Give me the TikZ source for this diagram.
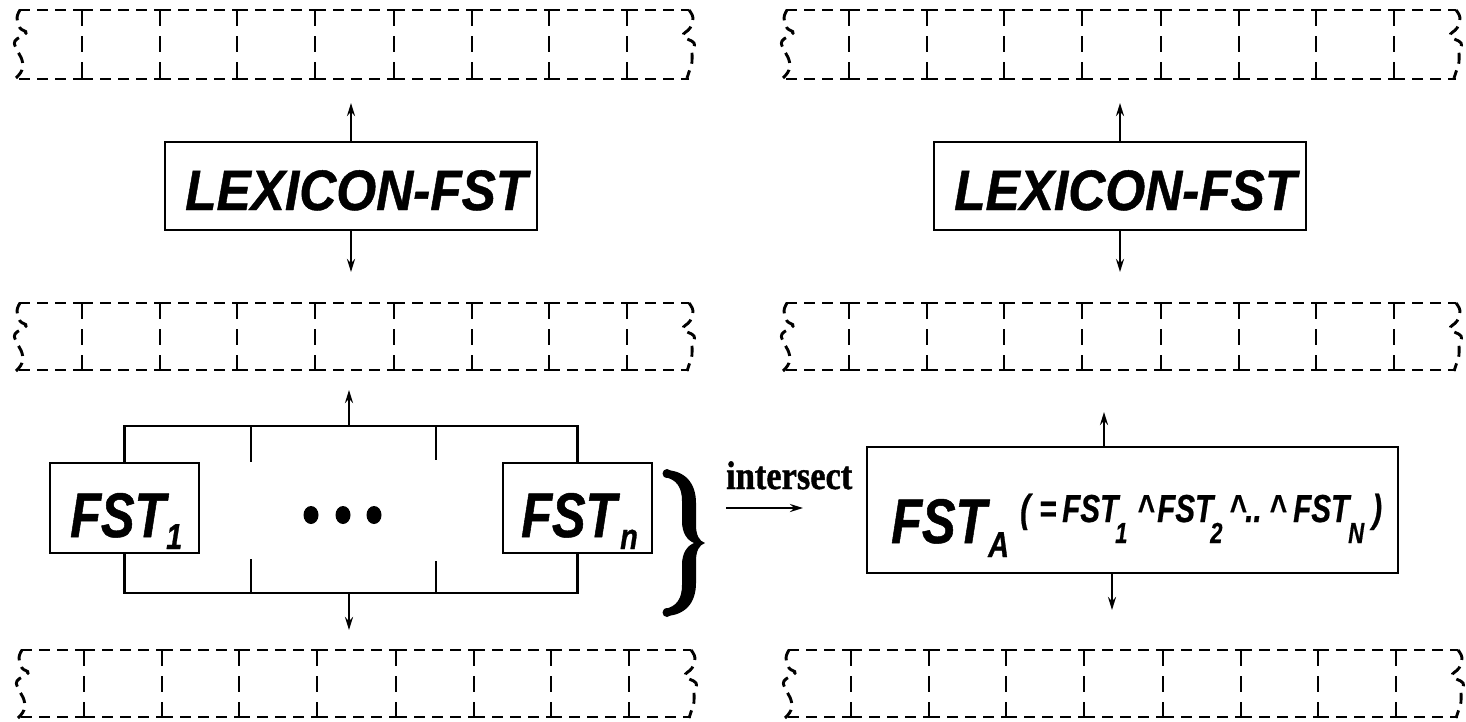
\documentclass[tikz,border=0pt]{standalone}
\usepackage{fontspec}
\setmainfont{Liberation Sans}
\newfontfamily\hvw[FakeStretch=0.9,FakeBold=0.8]{Liberation Sans}
\newfontfamily\hvn[FakeStretch=0.8,FakeBold=0.8]{Liberation Sans}
\newfontfamily\hvs[FakeStretch=0.76,FakeBold=0.6]{Liberation Sans}
\newfontfamily\tmn[FakeStretch=0.86,FakeBold=1]{Liberation Serif}
\usetikzlibrary{arrows.meta}

\newcommand\fsz[1]{\fontsize{#1}{#1}\selectfont}

% a dashed tape of nine cells with torn ends: #1 = left x, #2 = top y, #3 = bottom y
\newcommand\tapestrip[3]{%
  \foreach \a/\b in {0/63,63/141,141/218,218/296,296/375,375/453,453/530,530/608,608/670}{%
    \draw[tapeh] ({#1+\a},{#2}) -- ({#1+\b},{#2});
    \draw[tapeh] ({#1+\a},{#3}) -- ({#1+\b},{#3});
  }%
  \foreach \d in {63,141,218,296,375,453,530,608}{%
    \draw[tapev] ({#1+\d},{#2}) -- ({#1+\d},{#3});
  }%
  \begin{scope}[shift={(#1,#2)}]
    \draw[tapeh] plot[smooth, tension=0.7] coordinates {(1,0) (-2,8) (1,18) (7,23) (-4,31) (-2,40) (3,50) (3,60) (-3,68)};
  \end{scope}
  \begin{scope}[shift={(#1+670,#2)}]
    \draw[tapeh] plot[smooth, tension=0.7] coordinates {(0,0) (4,8) (1,18) (-6,26) (5,33) (3,42) (3,52) (0,62) (-2,68)};
  \end{scope}
}

\begin{document}
\begin{tikzpicture}[x=1pt,y=-1pt,
  tapeh/.style={line width=2.9pt, dash pattern=on 11pt off 7pt},
  tapev/.style={line width=2.9pt, dash pattern=on 16pt off 10pt},
  outlinebox/.style={draw, line width=2.6pt, inner sep=0pt},
  wire/.style={line width=2.6pt},
  arr/.style={line width=2.2pt, -{Stealth[length=13pt,width=8pt]}},
  lab/.style={inner sep=0pt, anchor=base west},
  lexfont/.style={lab, font=\hvw\bfseries\itshape\fsz{57}},
  bigfont/.style={lab, font=\hvn\bfseries\itshape\fsz{63}},
  subfont/.style={lab, font=\hvn\bfseries\itshape\fsz{36}},
  smallfont/.style={lab, font=\hvs\bfseries\itshape\fsz{39}},
  tinyfont/.style={lab, font=\hvs\bfseries\itshape\fsz{29}},
]
\useasboundingbox (0,0) rectangle (1466,721);

% tapes
\tapestrip{19}{10}{79}
\tapestrip{786}{10}{79}
\tapestrip{19}{303}{370}
\tapestrip{786}{303}{370}
\tapestrip{21}{650}{717}
\tapestrip{788}{650}{717}

% lexicon transducers
\node[outlinebox, minimum width=372pt, minimum height=88pt] (lexL) at (351,186) {};
\node[lexfont] (lexLt) at (185,210) {LEXICON-FST};
\coordinate (lexLup) at (351,103);
\coordinate (lexLdn) at (351,272);
\draw[arr] (lexL.north) -- (lexLup);
\draw[arr] (lexL.south) -- (lexLdn);

\node[outlinebox, minimum width=372pt, minimum height=88pt] (lexR) at (1120,186) {};
\node[lexfont] (lexRt) at (954,210) {LEXICON-FST};
\coordinate (lexRup) at (1120,103);
\coordinate (lexRdn) at (1120,272);
\draw[arr] (lexR.north) -- (lexRup);
\draw[arr] (lexR.south) -- (lexRdn);

% parallel rule transducers
\node[outlinebox, minimum width=149pt, minimum height=90pt] (f1) at (124.5,508) {};
\node[bigfont] (f1t) at (70,537) {FST};
\node[subfont] (f1s) at (166,549) {1};
\node[outlinebox, minimum width=149pt, minimum height=90pt] (fn) at (577.5,508) {};
\node[bigfont] (fnt) at (521,537) {FST};
\node[subfont] (fns) at (620,549) {n};

\coordinate (tbar) at (349,426);
\coordinate (bbar) at (349,593);
\draw[wire] (f1.north) |- (tbar) -| (fn.north);
\draw[wire] (f1.south) |- (bbar) -| (fn.south);
\coordinate (tk1a) at (251,426); \coordinate (tk1b) at (251,462);
\coordinate (tk2a) at (436,426); \coordinate (tk2b) at (436,460);
\coordinate (tk3a) at (251,593); \coordinate (tk3b) at (251,559);
\coordinate (tk4a) at (436,593); \coordinate (tk4b) at (436,561);
\draw[wire] (tk1a) -- (tk1b);
\draw[wire] (tk2a) -- (tk2b);
\draw[wire] (tk3a) -- (tk3b);
\draw[wire] (tk4a) -- (tk4b);
\coordinate (grpup) at (349,390);
\coordinate (grpdn) at (349,630);
\draw[arr] (tbar) -- (grpup);
\draw[arr] (bbar) -- (grpdn);

% ellipsis dots
\fill (311,515) ellipse [x radius=7.5pt, y radius=9pt];
\fill (343,515) ellipse [x radius=7.5pt, y radius=9pt];
\fill (374,515) ellipse [x radius=7.5pt, y radius=9pt];

% curly brace
\fill (664,470) .. controls (685,470) and (696,483) .. (696,503) -- (696,525)
  .. controls (696,535) and (699,541) .. (705,543)
  .. controls (699,545) and (696,551) .. (696,561) -- (696,583)
  .. controls (696,603) and (685,616) .. (664,616) -- (664,609)
  .. controls (677,607) and (682,598) .. (682,585) -- (682,565)
  .. controls (682,553) and (687,546) .. (694,543)
  .. controls (687,540) and (682,533) .. (682,521) -- (682,501)
  .. controls (682,488) and (677,479) .. (664,477) -- cycle;
\fill (667,473.5) circle (4.5pt);
\fill (667,612.5) circle (4.5pt);

% intersection step
\node[lab, font=\tmn\bfseries\fsz{40}] (isect) at (726,489) {intersect};
\coordinate (isA) at (726,508);
\coordinate (isB) at (803,508);
\draw[arr] (isA) -- (isB);

% intersected transducer
\node[outlinebox, minimum width=531pt, minimum height=126pt] (fa) at (1132.5,510) {};
\node[bigfont] (fat) at (891,543) {FST};
\node[subfont] (fas) at (988,557) {A};
\node[smallfont] (p1) at (1020,522) {(};
\node[smallfont] (p2) at (1039,522) {=};
\node[smallfont] (p3) at (1062,522) {FST};
\node[tinyfont] (p4) at (1115,543) {1};
\node[smallfont] (p5) at (1137,522) {\textasciicircum};
\node[smallfont] (p6) at (1157,522) {FST};
\node[tinyfont] (p7) at (1210,543) {2};
\node[smallfont] (p8) at (1229,522) {\textasciicircum};
\node[smallfont] (p9) at (1245,522) {..};
\node[smallfont] (p10) at (1269,522) {\textasciicircum};
\node[smallfont] (p11) at (1293,522) {FST};
\node[tinyfont] (p12) at (1348,543) {N};
\node[smallfont] (p13) at (1372,522) {)};
\coordinate (faup) at (1104,412);
\coordinate (fadn) at (1112,610);
\draw[arr] (fa.north -| faup) -- (faup);
\draw[arr] (fa.south -| fadn) -- (fadn);
\end{tikzpicture}
\end{document}
